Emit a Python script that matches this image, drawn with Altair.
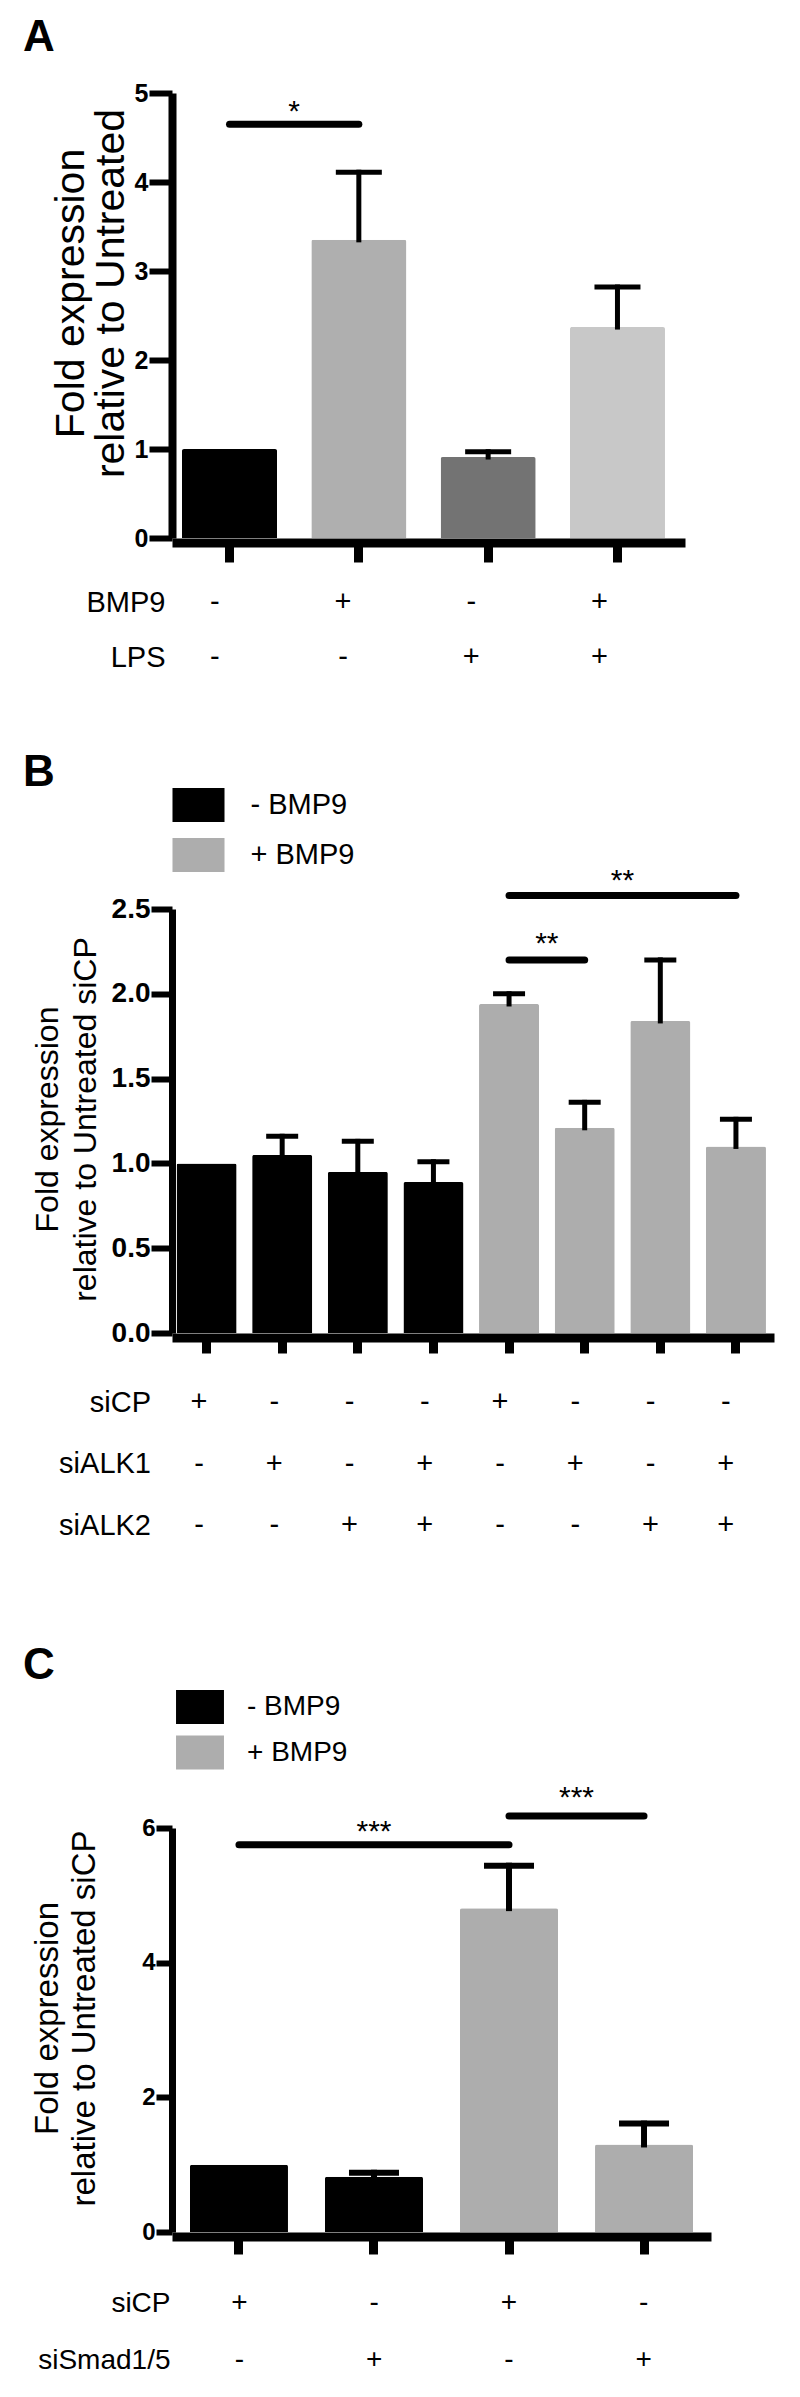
import altair as alt
import pandas as pd

FONT = "Liberation Sans"

# ---------------- Panel A ----------------
a_conditions = ["Untreated", "BMP9", "LPS", "BMP9 + LPS"]
a_means = [1.00, 3.35, 0.91, 2.37]
a_sem = [0.00, 0.76, 0.06, 0.45]
a_colors = ["#000000", "#afafaf", "#737373", "#c8c8c8"]
a_row_names = ["BMP9", "LPS"]
a_row_bmp9 = ["-", "+", "-", "+"]
a_row_lps = ["-", "-", "+", "+"]
a_sig_from = ["Untreated"]
a_sig_to = ["BMP9"]
a_sig_y = [4.65]
a_star_y = [4.88]
a_star_txt = ["*"]
a_yticks = [0, 1, 2, 3, 4, 5]

# ---------------- Panel B ----------------
b_conditions = ["siCP -", "siALK1 -", "siALK2 -", "siALK1+2 -",
                "siCP +", "siALK1 +", "siALK2 +", "siALK1+2 +"]
b_means = [1.00, 1.05, 0.95, 0.89, 1.94, 1.21, 1.84, 1.10]
b_sem = [0.00, 0.11, 0.18, 0.12, 0.06, 0.15, 0.36, 0.16]
b_bmp9 = ["- BMP9", "- BMP9", "- BMP9", "- BMP9", "+ BMP9", "+ BMP9", "+ BMP9", "+ BMP9"]
b_row_names = ["siCP", "siALK1", "siALK2"]
b_row_sicp = ["+", "-", "-", "-", "+", "-", "-", "-"]
b_row_alk1 = ["-", "+", "-", "+", "-", "+", "-", "+"]
b_row_alk2 = ["-", "-", "+", "+", "-", "-", "+", "+"]
b_sig_from = ["siCP +", "siCP +"]
b_sig_to = ["siALK1 +", "siALK1+2 +"]
b_sig_y = [2.20, 2.58]
b_star_y = [2.34, 2.71]
b_star_txt = ["**", "**"]
b_yticks = [0, 0.5, 1.0, 1.5, 2.0, 2.5]

# ---------------- Panel C ----------------
c_conditions = ["siCP -", "siSmad1/5 -", "siCP +", "siSmad1/5 +"]
c_means = [1.00, 0.82, 4.81, 1.30]
c_sem = [0.00, 0.06, 0.63, 0.31]
c_bmp9 = ["- BMP9", "- BMP9", "+ BMP9", "+ BMP9"]
c_row_names = ["siCP", "siSmad1/5"]
c_row_sicp = ["+", "-", "+", "-"]
c_row_smad = ["-", "+", "-", "+"]
c_sig_from = ["siCP -", "siCP +"]
c_sig_to = ["siCP +", "siSmad1/5 +"]
c_sig_y = [5.75, 6.18]
c_star_y = [6.06, 6.56]
c_star_txt = ["***", "***"]
c_yticks = [0, 2, 4, 6]

LEGEND_DOMAIN = ["- BMP9", "+ BMP9"]
LEGEND_RANGE = ["#000000", "#adadad"]


def bar_panel(letter, conds, means, sem, grp, cdomain, crange, legend,
              width, height, pin, pout, palign, ydom, yticks, yfmt, ylab_size,
              ytick_size, ydom_w, title_lines, title_size, title_x, title_y, title_lh,
              xtick_size, cap_size, err_w, sig_from, sig_to, sig_y, star_y, star_txt,
              star_size, letter_dx, letter_offset):
    df = pd.DataFrame({"cond": conds, "mean": means, "sem": sem, "grp": grp})
    df["upper"] = df["mean"] + df["sem"]
    err_df = df[df["sem"] > 0]
    xscale = alt.Scale(domain=conds, paddingInner=pin, paddingOuter=pout, align=palign)
    yscale = alt.Scale(domain=ydom, nice=False, zero=True)
    xaxis = alt.Axis(labels=False, title=None, ticks=True, tickSize=xtick_size, tickWidth=9,
                     tickColor="black", domainColor="black", domainWidth=9, offset=4.5,
                     grid=False)
    yaxis = alt.Axis(values=yticks, format=yfmt, grid=False, domainColor="black",
                     domainWidth=ydom_w, tickColor="black", tickWidth=6, tickSize=ytick_size,
                     labelPadding=1, labelFont=FONT, labelFontSize=ylab_size,
                     labelFontWeight="bold", labelColor="black", labelFlush=False,
                     labelOverlap=False, title=title_lines, titleFont=FONT,
                     titleFontSize=title_size, titleFontWeight="normal", titleColor="black",
                     titleAngle=270, titleAlign="center", titleBaseline="alphabetic",
                     titleX=title_x, titleY=title_y, titleLineHeight=title_lh,
                     titleLimit=2000)
    bars = alt.Chart(df).mark_bar(cornerRadiusTopLeft=2, cornerRadiusTopRight=2).encode(
        x=alt.X("cond:N", scale=xscale, axis=xaxis),
        y=alt.Y("mean:Q", scale=yscale, axis=yaxis),
        color=alt.Color("grp:N", scale=alt.Scale(domain=cdomain, range=crange), legend=legend),
    )
    err = alt.Chart(err_df).mark_rule(strokeWidth=err_w, color="black", strokeCap="square").encode(
        x="cond:N", y="mean:Q", y2="upper:Q")
    cap = alt.Chart(err_df).mark_tick(color="black", thickness=err_w, size=cap_size, opacity=1).encode(
        x="cond:N", y="upper:Q")
    sig_df = pd.DataFrame({"from": sig_from, "to": sig_to, "y": sig_y})
    sig = alt.Chart(sig_df).mark_rule(strokeWidth=7, color="black", strokeCap="round").encode(
        x="from:N", x2="to:N", y="y:Q")
    layers = [bars, err, cap, sig]
    n = len(conds)
    step = width / (n - pin + 2 * pout)
    for f, t, sy, txt in zip(sig_from, sig_to, star_y, star_txt):
        d = conds.index(t) - conds.index(f)
        sdf = pd.DataFrame({"cond": [f], "y": [sy], "t": [txt]})
        layers.append(alt.Chart(sdf).mark_text(
            fontSize=star_size, font=FONT, color="black", baseline="alphabetic",
            align="center", dx=d * step / 2, dy=0.57 * star_size).encode(
            x="cond:N", y="y:Q", text="t:N"))
    return alt.layer(*layers).properties(
        width=width, height=height,
        title=alt.TitleParams(letter, anchor="start", frame="group", fontSize=44,
                              fontWeight="bold", font=FONT, color="black", dx=letter_dx,
                              offset=letter_offset, baseline="alphabetic"))


def table_panel(conds, row_names, rows, width, height, pin, pout, palign, row_range,
                font_size, label_pad):
    recs = []
    for name, signs in zip(row_names, rows):
        for c, s in zip(conds, signs):
            recs.append({"cond": c, "row": name, "sign": s})
    df = pd.DataFrame(recs)
    return alt.Chart(df).mark_text(fontSize=font_size, font=FONT, color="black",
                                   baseline="middle").encode(
        x=alt.X("cond:N", scale=alt.Scale(domain=conds, paddingInner=pin,
                                          paddingOuter=pout, align=palign), axis=None),
        y=alt.Y("row:N", scale=alt.Scale(type="point", domain=row_names, range=row_range,
                                         padding=0),
                axis=alt.Axis(title=None, domain=False, ticks=False, grid=False,
                              labelFontSize=font_size, labelFont=FONT, labelColor="black",
                              labelPadding=label_pad, labelBaseline="middle", labelLimit=0)),
        text="sign:N",
    ).properties(width=width, height=height)


# ---- Panel A ----
A_W, A_H = 513, 445
chart_a = bar_panel(
    "A", a_conditions, a_means, a_sem, a_conditions, a_conditions, a_colors, None,
    A_W, A_H, 0.265, 0.116, 0.333, [0, 5], a_yticks, "d", 25, 23, 8,
    ["Fold expression", "relative to Untreated"], 41, -89, 200, 40,
    19.5, 46, 5, a_sig_from, a_sig_to, a_sig_y, a_star_y, a_star_txt, 30, -149, -14)
table_a = table_panel(a_conditions, a_row_names, [a_row_bmp9, a_row_lps], A_W, 371,
                      0.265, 0.116, 0.333, [64, 119], 29, 7)

# ---- Panel B ----
B_W, B_H = 602, 424
legend_b = alt.Legend(orient="none", legendX=9.5, legendY=-121, direction="vertical",
                      title=None, symbolType="M-1.53,-1H1.53V1H-1.53Z", symbolSize=1156,
                      symbolStrokeWidth=0, symbolOpacity=1, labelFont=FONT,
                      labelFontSize=29, labelColor="black", labelOffset=35, rowPadding=16,
                      padding=0, labelLimit=0)
chart_b = bar_panel(
    "B", b_conditions, b_means, b_sem, b_bmp9, LEGEND_DOMAIN, LEGEND_RANGE, legend_b,
    B_W, B_H, 0.206, 0.083, 0.36, [0, 2.5], b_yticks, ".1f", 28, 21, 7,
    ["Fold expression", "relative to Untreated siCP"], 32, -114.5, 210, 38,
    15.5, 32, 5, b_sig_from, b_sig_to, b_sig_y, b_star_y, b_star_txt, 30, -149, -42)
table_b = table_panel(b_conditions, b_row_names, [b_row_sicp, b_row_alk1, b_row_alk2],
                      B_W, 495, 0.206, 0.083, 0.36, [69, 192], 29, 21.5)

# ---- Panel C ----
C_W, C_H = 539, 404
legend_c = alt.Legend(orient="none", legendX=11, legendY=-138, direction="vertical",
                      title=None, symbolType="M-1.41,-1H1.41V1H-1.41Z", symbolSize=1156,
                      symbolStrokeWidth=0, symbolOpacity=1, labelFont=FONT,
                      labelFontSize=28, labelColor="black", labelOffset=30, rowPadding=11.5,
                      padding=0, labelLimit=0)
chart_c = bar_panel(
    "C", c_conditions, c_means, c_sem, c_bmp9, LEGEND_DOMAIN, LEGEND_RANGE, legend_c,
    C_W, C_H, 0.274, 0.133, 0.5, [0, 6], c_yticks, "d", 24, 16, 7,
    ["Fold expression", "relative to Untreated siCP"], 33, -115, 190, 37,
    17.5, 50, 6, c_sig_from, c_sig_to, c_sig_y, c_star_y, c_star_txt, 30, -149, -33)
table_c = table_panel(c_conditions, c_row_names, [c_row_sicp, c_row_smad], C_W, 150,
                      0.274, 0.133, 0.5, [71, 128], 28, 2)

chart = alt.vconcat(chart_a, table_a, chart_b, table_b, chart_c, table_c,
                    bounds="flush", spacing=0).resolve_scale(
    x="independent", y="independent", color="independent").resolve_legend(
    color="independent").properties(
    padding={"left": 15, "top": 8, "right": 5, "bottom": 5},
    background="white").configure(font=FONT).configure_view(stroke=None)

chart.save("out.html", embed_options={"renderer": "svg", "actions": False})
